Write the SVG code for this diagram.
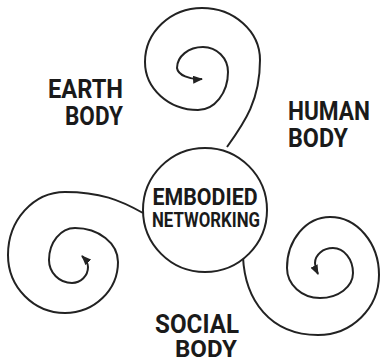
<svg xmlns="http://www.w3.org/2000/svg" width="381" height="362" viewBox="0 0 381 362">
<defs>
<marker id="ah" markerWidth="10" markerHeight="8" refX="9" refY="4" orient="auto" markerUnits="userSpaceOnUse">
<path d="M0,0 L10,4 L0,8 Z" fill="#222"/>
</marker>
<style>
.sp{fill:none;stroke:#222;stroke-width:2;marker-end:url(#ah)}
.lb{font-family:Roboto,"Liberation Sans",sans-serif;font-weight:bold;fill:#1a1a1a}
</style>
</defs>
<rect width="381" height="362" fill="#fff"/>
<g id="connectors">
<path class="sp" d="M227,147 C245,122 260,100 260,60 A58,52 0 0 0 202,8 A57,54 0 0 0 145,62 A53,48 0 0 0 198,110 A30,38 0 0 0 228,72 A25,25 0 0 0 203,47 A26,21 0 0 0 177,68 A22,12 0 0 0 202,79"/>
<path class="sp" d="M143,213 C120,200 100,192 65,192 A57,63 0 0 0 8,255 A57,58 0 0 0 65,313 A53,51 0 0 0 118,262 A43,34 0 0 0 75,228 A26,32 0 0 0 49,260 A23,23 0 0 0 72,283 A16,16 0 0 0 88,267 Q88,262 82,256"/>
<path class="sp" d="M243,257 C245,300 270,335 318,335 A61,60 0 0 0 379,275 A49,58 0 0 0 330,217 A43,51 0 0 0 287,268 A33,30 0 0 0 320,298 A33,25 0 0 0 353,273 A20,25 0 0 0 333,248 A18,15 0 0 0 315,263 Q315,268 318,274"/>
</g>
<g id="center">
<circle cx="205" cy="210" r="62" fill="#fff" stroke="#222" stroke-width="2"/>
<text class="lb" x="205" y="205" font-size="23" text-anchor="middle" textLength="105" lengthAdjust="spacingAndGlyphs">EMBODIED</text>
<text class="lb" x="206" y="227" font-size="20" text-anchor="middle" textLength="108" lengthAdjust="spacingAndGlyphs">NETWORKING</text>
</g>
<g id="earth">
<text class="lb" x="48" y="98" font-size="25" textLength="75" lengthAdjust="spacingAndGlyphs">EARTH</text>
<text class="lb" x="65" y="125" font-size="25" textLength="58" lengthAdjust="spacingAndGlyphs">BODY</text>
</g>
<g id="human">
<text class="lb" x="288" y="120" font-size="25" textLength="82" lengthAdjust="spacingAndGlyphs">HUMAN</text>
<text class="lb" x="288" y="147" font-size="25" textLength="60" lengthAdjust="spacingAndGlyphs">BODY</text>
</g>
<g id="social">
<text class="lb" x="155" y="333" font-size="25" textLength="84" lengthAdjust="spacingAndGlyphs">SOCIAL</text>
<text class="lb" x="175" y="357" font-size="24" textLength="62" lengthAdjust="spacingAndGlyphs">BODY</text>
</g>
</svg>
